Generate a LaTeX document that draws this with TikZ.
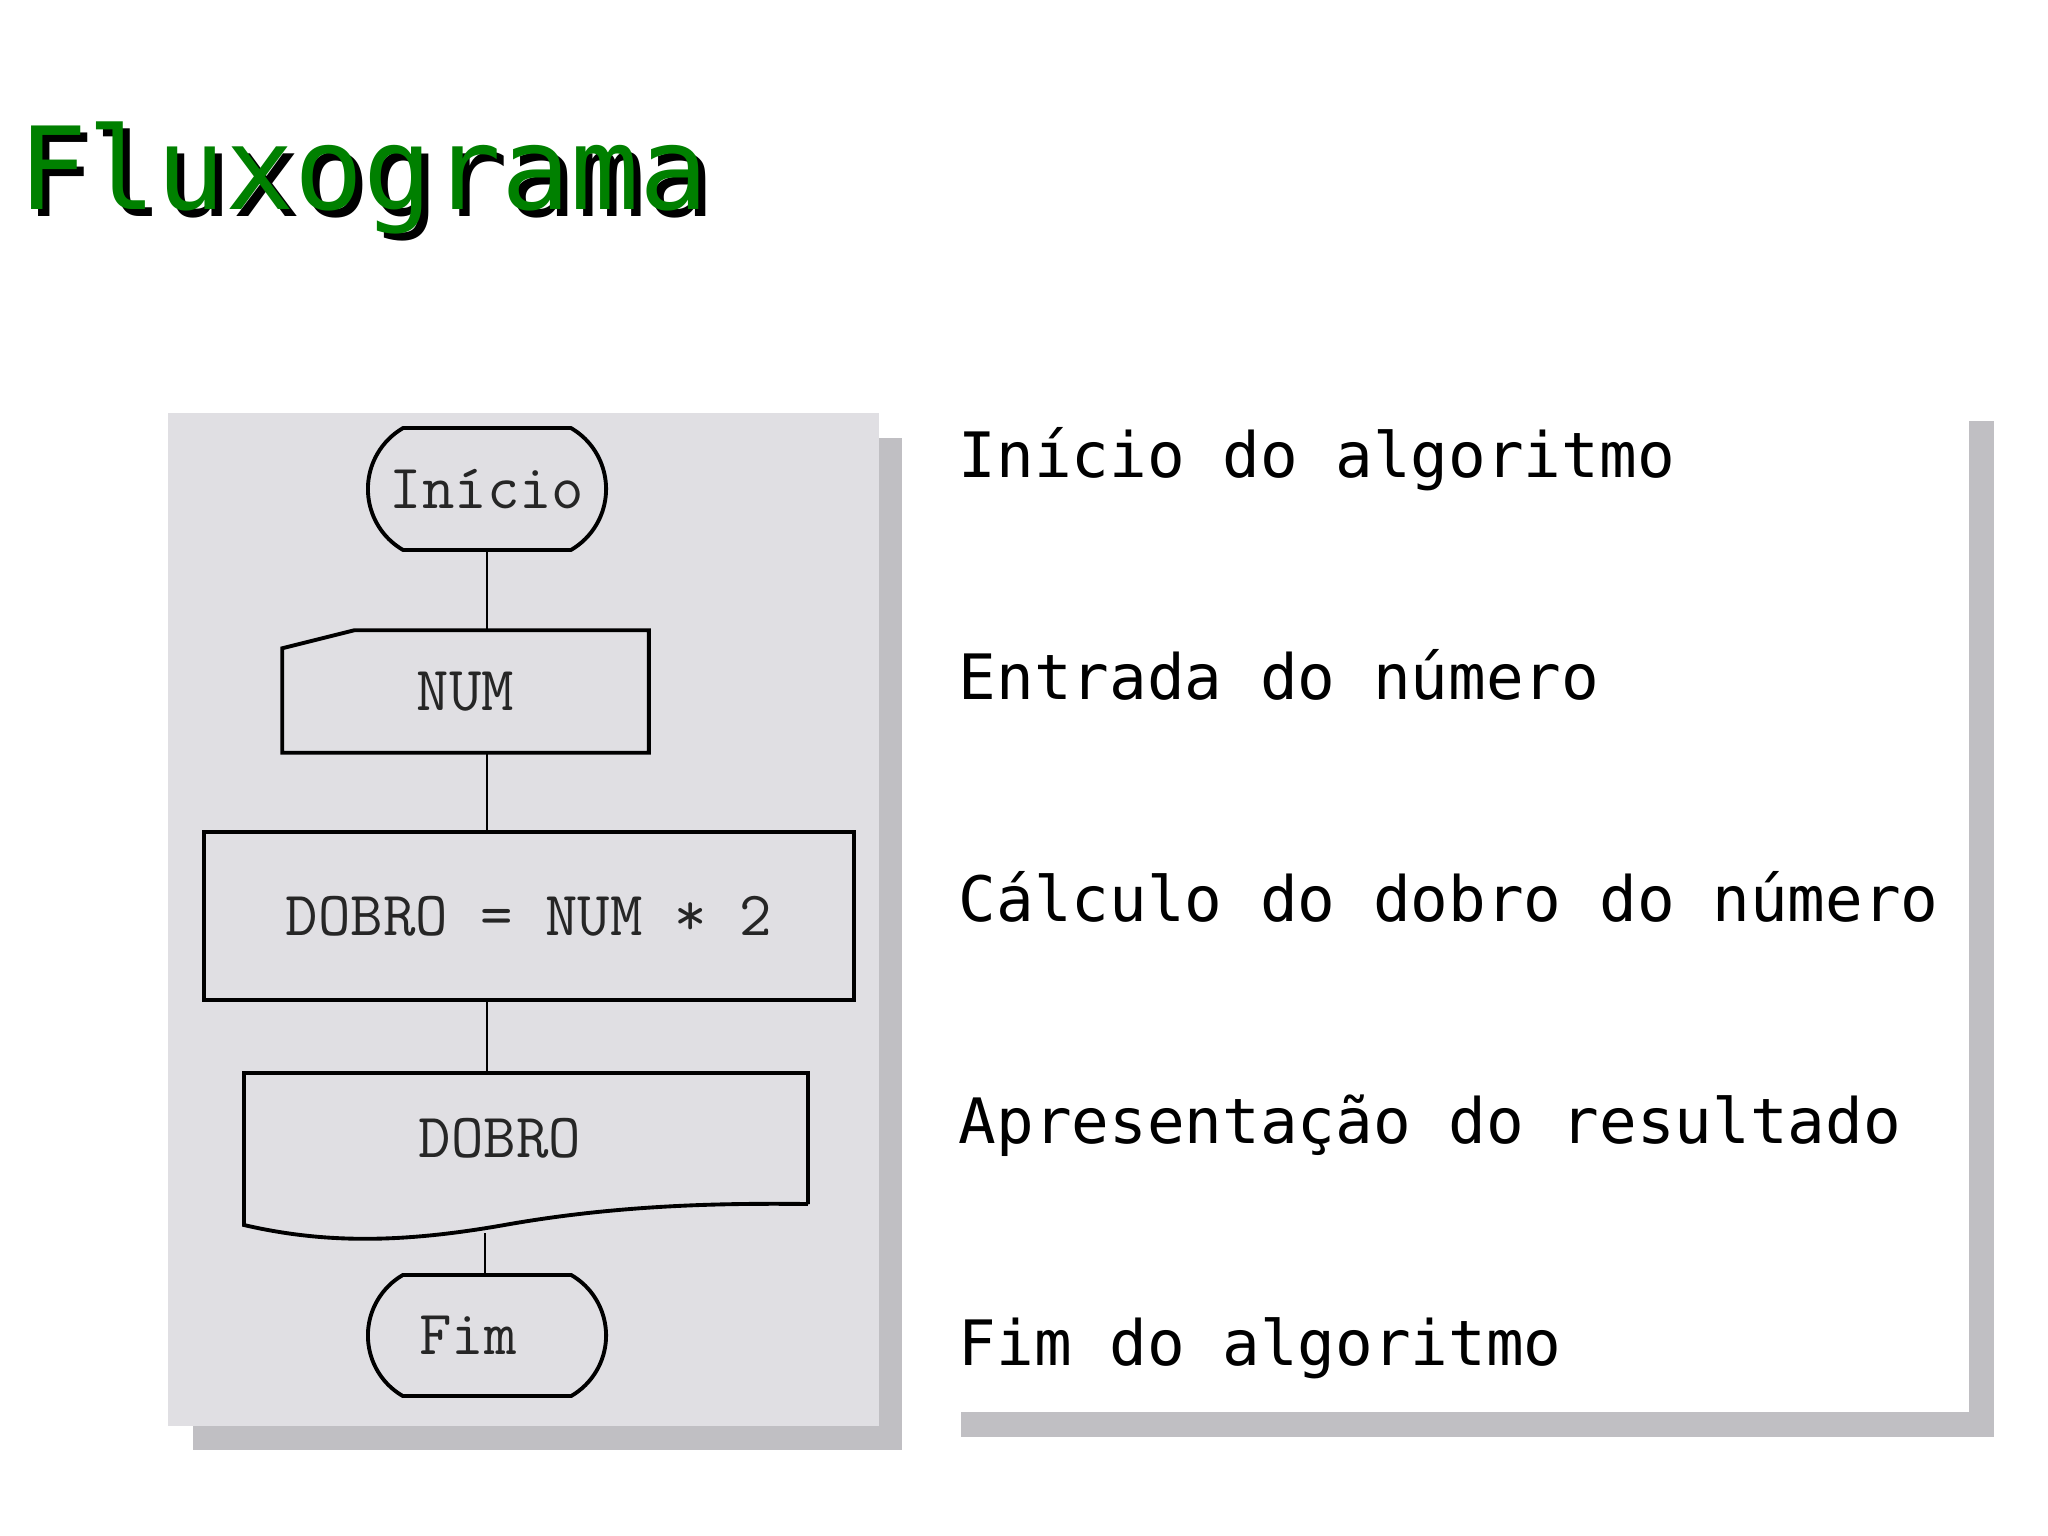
\documentclass[tikz,border=0pt]{standalone}
\usepackage{fontspec}
\newfontfamily\titlefont{DejaVu Sans Mono}
\usepackage{tikz}
\tikzset{>=latex}
\usetikzlibrary{shapes.misc, positioning}
\definecolor{painel}{HTML}{E0DFE3}
\definecolor{sombra}{HTML}{C0BFC3}
\definecolor{verdetitulo}{HTML}{008000}

\begin{document}
\begin{tikzpicture}[x=0.01cm, y=-0.01cm,
    term/.style={rounded rectangle, rounded rectangle arc length=120, draw, line width=1.1pt,
        minimum width=2.38cm, minimum height=1.22cm, inner sep=0pt,
        font=\ttfamily\fontsize{17.9}{20}\selectfont, text=black!85},
    caixa/.style={inner sep=0pt, font=\ttfamily\fontsize{17.9}{20}\selectfont, text=black!85},
    contorno/.style={line width=1.1pt},
    liga/.style={line width=0.5pt},
    legenda/.style={anchor=base west, inner sep=0pt, font=\titlefont\fontsize{17.8}{22}\selectfont}]

 \useasboundingbox[fill=white] (0,0) rectangle (2048,1536);

 % Titulo
 \node[anchor=base west, inner sep=0pt, font=\titlefont\fontsize{32.6}{40}\selectfont, text=black] (sombratitulo) at (25,216) {Fluxograma};
 \node[anchor=base west, inner sep=0pt, font=\titlefont\fontsize{32.6}{40}\selectfont, text=verdetitulo] (titulo) at (18,209) {Fluxograma};

 % Paineis
 \fill[sombra] (193,438) rectangle (902,1450);
 \fill[painel] (168,413) rectangle (879,1426);
 \fill[sombra] (961,421) rectangle (1994,1437);
 \fill[white] (936,396) rectangle (1969,1412);

 % Fluxograma
 \node[term] (inicio) at (487,489) {Início};

 \node[caixa, minimum width=3.65cm, minimum height=1.21cm] (num) at (465.5,691.5) {NUM};
 \draw[contorno] ([xshift=0.72cm]num.north west) -- (num.north east) -- (num.south east)
     -- (num.south west) -- ([yshift=-0.18cm]num.north west) -- cycle;

 \node[caixa, draw, line width=1.1pt, minimum width=6.5cm, minimum height=1.68cm] (calculo) at (529,916) {DOBRO = NUM * 2};

 \node[caixa, minimum width=5.64cm, minimum height=1.31cm] (saida) at (526,1138.5) {DOBRO\hspace{0.52cm}\null};
 \draw[contorno] (808,1204) -- (808,1073) -- (244,1073) -- (244,1225)
     .. controls (330,1245) and (410,1242) .. (510,1224)
     .. controls (620,1205) and (720,1203) .. (808,1204);
 \coordinate (saidabase) at (485,1233);

 \node[term, minimum height=1.21cm] (fim) at (487,1335.5) {Fim\hspace{0.38cm}\null};

 % Ligacoes
 \draw[liga] (inicio.south) -- (inicio.south |- num.north);
 \draw[liga] (inicio.south |- num.south) -- (inicio.south |- calculo.north);
 \draw[liga] (inicio.south |- calculo.south) -- (inicio.south |- saida.north);
 \draw[liga] (saidabase) -- (saidabase |- fim.north);

 % Legendas
 \foreach \texto [count=\i] in {Início do algoritmo, Entrada do número, Cálculo do dobro do número,
     Apresentação do resultado, Fim do algoritmo}{
    \node[legenda] (desc\i) at (958, {477+222*(\i-1)}) {\texto};
 }

\end{tikzpicture}
\end{document}
